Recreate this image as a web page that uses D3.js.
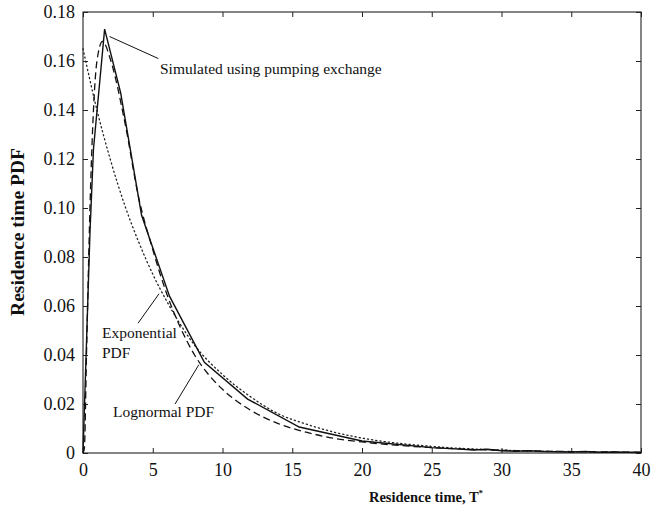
<!DOCTYPE html>
<html><head><meta charset="utf-8">
<script src="https://cdn.jsdelivr.net/npm/d3@7"></script>
<style>
html,body{margin:0;padding:0;background:#fff;}
svg text{font-family:"Liberation Serif","Times New Roman",serif;fill:#111;}
</style></head>
<body>
<svg id="chart" width="663" height="511"></svg>
<script>
// ---- data ----
const simT   = [0, 0.5, 0.75, 1.55, 2.7, 4.2, 6.2, 8.7, 11.8, 15.5, 20, 25, 27, 28, 29, 30, 31, 32, 33, 35, 36, 37, 38, 40];
const simPDF = [0, 0.090, 0.124, 0.173, 0.147, 0.097, 0.064, 0.037, 0.022, 0.0106, 0.0049, 0.0022, 0.0016, 0.0012, 0.0015, 0.0009, 0.0007, 0.0009, 0.0006, 0.0004, 0.0006, 0.0003, 0.0004, 0.0002];
const logT   = [0, 0.1, 0.25, 0.5, 0.75, 1, 1.4, 2, 3, 4, 5, 6, 7, 8, 9, 10, 12, 14, 16, 18, 20, 25, 30, 35, 40];
const logPDF = [0, 0.002, 0.040, 0.100, 0.140, 0.160, 0.168, 0.160, 0.135, 0.104, 0.083, 0.065, 0.051, 0.040, 0.032, 0.026, 0.0175, 0.012, 0.0085, 0.006, 0.0045, 0.0022, 0.0011, 0.0006, 0.0003];
const expT   = [0, 1, 2, 3, 4, 5, 6, 8, 10, 12, 14, 16, 18, 20, 25, 30, 35, 40];
const expPDF = [0.165, 0.140, 0.119, 0.101, 0.086, 0.073, 0.062, 0.044, 0.032, 0.023, 0.016, 0.0118, 0.0085, 0.0061, 0.0027, 0.0012, 0.0005, 0.0002];
const xTicks = [0, 5, 10, 15, 20, 25, 30, 35, 40];
const yTicks = [0, 0.02, 0.04, 0.06, 0.08, 0.10, 0.12, 0.14, 0.16, 0.18];
const yTickLabels = ["0", "0.02", "0.04", "0.06", "0.08", "0.10", "0.12", "0.14", "0.16", "0.18"];
const annotations = [
  {lines: ["Simulated using pumping exchange"], t: 160, y: 74, from: [1.9, 0.170], to: [5.4, 0.161]},
  {lines: ["Exponential", "PDF"], t: 102, y: 338, from: [5.45, 0.065], to: [3.95, 0.053]},
  {lines: ["Lognormal PDF"], t: 113, y: 417, from: [8.3, 0.036], to: [6.6, 0.020]}
];

const svg = d3.select("#chart");
const L = 83, R = 641, T = 12, B = 453;
const x = d3.scaleLinear().domain([0, 40]).range([L, R]);
const y = d3.scaleLinear().domain([0, 0.18]).range([B, T]);

// frame
svg.append("rect").attr("x", L).attr("y", T).attr("width", R - L).attr("height", B - T)
  .attr("fill", "none").attr("stroke", "#222").attr("stroke-width", 1.1);

// axes with inward ticks
const fmtY = d => yTickLabels[yTicks.indexOf(d)];
const gx = svg.append("g").attr("transform", `translate(0,${B})`)
  .call(d3.axisBottom(x).tickValues(xTicks).tickSizeInner(-5).tickSizeOuter(0).tickPadding(10));
const gxTop = svg.append("g").attr("transform", `translate(0,${T})`)
  .call(d3.axisTop(x).tickValues(xTicks).tickSizeInner(-5).tickSizeOuter(0).tickFormat(""));
const gy = svg.append("g").attr("transform", `translate(${L},0)`)
  .call(d3.axisLeft(y).tickValues(yTicks).tickSizeInner(-5).tickSizeOuter(0).tickPadding(8).tickFormat(fmtY));
const gyR = svg.append("g").attr("transform", `translate(${R},0)`)
  .call(d3.axisRight(y).tickValues(yTicks).tickSizeInner(-5).tickSizeOuter(0).tickFormat(""));
[gx, gxTop, gy, gyR].forEach(g => {
  g.select(".domain").remove();
  g.selectAll("line").attr("stroke", "#222");
  g.selectAll("text").attr("font-size", 18).attr("font-family", "Liberation Serif").attr("fill", "#111");
});

// curves
const mk = (ts, vs) => ts.map((t, i) => [t, vs[i]]);
const smooth = d3.line().x(d => x(d[0])).y(d => y(d[1])).curve(d3.curveMonotoneX);
const straight = d3.line().x(d => x(d[0])).y(d => y(d[1]));
svg.append("path").datum(mk(expT, expPDF)).attr("d", smooth)
  .attr("fill", "none").attr("stroke", "#222").attr("stroke-width", 1.3)
  .attr("stroke-dasharray", "1.2,3").attr("stroke-linecap", "round");
svg.append("path").datum(mk(logT, logPDF)).attr("d", smooth)
  .attr("fill", "none").attr("stroke", "#111").attr("stroke-width", 1.3)
  .attr("stroke-dasharray", "7,4");
svg.append("path").datum(mk(simT, simPDF)).attr("d", straight)
  .attr("fill", "none").attr("stroke", "#111").attr("stroke-width", 1.4);

// annotations
annotations.forEach(a => {
  svg.append("line").attr("x1", x(a.from[0])).attr("y1", y(a.from[1]))
    .attr("x2", x(a.to[0])).attr("y2", y(a.to[1]))
    .attr("stroke", "#111").attr("stroke-width", 1);
  a.lines.forEach((s, i) => {
    svg.append("text").attr("x", a.t).attr("y", a.y + i * 20).attr("font-size", 15.5).text(s);
  });
});

// axis titles
svg.append("text").attr("x", 426).attr("y", 502).attr("text-anchor", "middle")
  .attr("font-size", 14.5).attr("font-weight", "bold")
  .html('Residence time, T<tspan dy="-6" font-size="9">*</tspan>');
svg.append("text").attr("transform", "translate(24,232) rotate(-90)").attr("text-anchor", "middle")
  .attr("font-size", 19.5).attr("font-weight", "bold").text("Residence time PDF");
</script>
</body></html>
